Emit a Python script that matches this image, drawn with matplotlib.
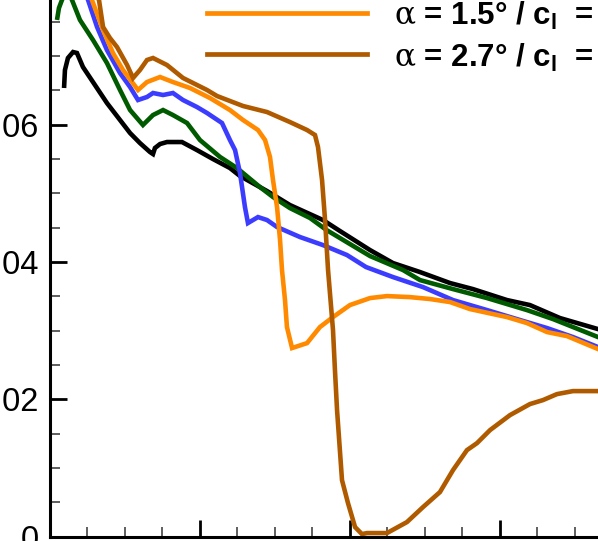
import matplotlib
matplotlib.use('Agg')
import matplotlib.pyplot as plt
from matplotlib.lines import Line2D
from matplotlib.ticker import MultipleLocator, FixedLocator, FixedFormatter, NullFormatter

plt.rcParams['font.family'] = ['Liberation Sans', 'DejaVu Sans']
plt.rcParams['mathtext.fontset'] = 'custom'
plt.rcParams['mathtext.it'] = 'DejaVu Serif'
plt.rcParams['mathtext.rm'] = 'Liberation Sans'
plt.rcParams['mathtext.bf'] = 'Liberation Sans:bold'

# ---------------- data ----------------
black_x = [0.0097, 0.0103, 0.0123, 0.0157, 0.0183, 0.0223, 0.0383, 0.0537, 0.0603, 0.0670, 0.0690,
           0.0703, 0.0737, 0.0783, 0.0883, 0.0983, 0.109, 0.1203, 0.127, 0.145, 0.1603, 0.1823,
           0.1937, 0.2137, 0.229, 0.247, 0.267, 0.2823, 0.305, 0.3203, 0.3403, 0.3657, 0.372]
black_y = [0.06536, 0.06798, 0.06973, 0.0706, 0.07046, 0.06842, 0.06317, 0.0588, 0.05734, 0.05603, 0.05574,
           0.05662, 0.0572, 0.05749, 0.05749, 0.05632, 0.05501, 0.0537, 0.05254, 0.05035, 0.04831, 0.04613,
           0.04452, 0.04175, 0.03986, 0.03855, 0.03695, 0.03607, 0.03447, 0.03374, 0.03185, 0.03024, 0.0299]

green_x = [0.005, 0.0063, 0.0083, 0.011, 0.0137, 0.015, 0.0203, 0.029, 0.0383, 0.047, 0.0537, 0.0623,
           0.069, 0.0757, 0.0823, 0.0917, 0.1003, 0.1137, 0.125, 0.1403, 0.149, 0.1603, 0.1737, 0.1847,
           0.2137, 0.2357, 0.247, 0.269, 0.2917, 0.3183, 0.3357, 0.3657, 0.372]
green_y = [0.07527, 0.07701, 0.07818, 0.07935, 0.07876, 0.07818, 0.07527, 0.07235, 0.069, 0.06507, 0.06215, 0.05997,
           0.06142, 0.06215, 0.06142, 0.06026, 0.05778, 0.05531, 0.0537, 0.05093, 0.04948, 0.04787, 0.04642, 0.04467,
           0.04088, 0.03884, 0.03738, 0.03607, 0.03476, 0.03301, 0.0317, 0.02908, 0.0287]

blue_x = [0.0203, 0.023, 0.0257, 0.0317, 0.0383, 0.047, 0.0537, 0.059, 0.065, 0.069, 0.0757, 0.0823,
          0.089, 0.0983, 0.105, 0.115, 0.1203, 0.1237, 0.127, 0.1303, 0.1323, 0.139, 0.145, 0.1517,
          0.167, 0.1823, 0.1983, 0.211, 0.229, 0.249, 0.269, 0.2917, 0.3137, 0.3317, 0.349, 0.3657, 0.372]
blue_y = [0.08109, 0.07964, 0.07818, 0.07425, 0.07089, 0.06754, 0.0655, 0.06361, 0.06405, 0.06463, 0.06434, 0.06463,
          0.06361, 0.06259, 0.06172, 0.06026, 0.05778, 0.05632, 0.05297, 0.04802, 0.04569, 0.04656, 0.04613, 0.04511,
          0.04365, 0.04248, 0.04103, 0.03928, 0.03782, 0.03636, 0.03447, 0.03301, 0.03156, 0.03039, 0.02908, 0.02762, 0.0273]

orange_x = [0.0237, 0.0283, 0.0357, 0.0423, 0.049, 0.059, 0.065, 0.0737, 0.0823, 0.0937, 0.107, 0.1203,
            0.129, 0.139, 0.1437, 0.147, 0.149, 0.1517, 0.1537, 0.155, 0.157, 0.1583, 0.1617, 0.1717,
            0.1803, 0.189, 0.2003, 0.2137, 0.225, 0.2403, 0.2537, 0.267, 0.2803, 0.305, 0.3183, 0.3317,
            0.345, 0.3657, 0.372]
orange_y = [0.0804, 0.07818, 0.07381, 0.07046, 0.06798, 0.06507, 0.06623, 0.06696, 0.06623, 0.06536, 0.0639, 0.06215,
            0.0607, 0.05924, 0.05778, 0.05531, 0.05195, 0.04802, 0.04321, 0.03884, 0.03447, 0.03054, 0.02748, 0.0282,
            0.03054, 0.03199, 0.03374, 0.03476, 0.03505, 0.0349, 0.03462, 0.03418, 0.03316, 0.03199, 0.03112, 0.02981,
            0.02922, 0.02733, 0.0270]

brown_x = [0.0257, 0.033, 0.0357, 0.0403, 0.045, 0.0517, 0.0557, 0.0603, 0.065, 0.069, 0.0783, 0.089,
           0.105, 0.1117, 0.129, 0.145, 0.1603, 0.1717, 0.177, 0.179, 0.1817, 0.1837, 0.1857, 0.189,
           0.1903, 0.1917, 0.195, 0.199, 0.2037, 0.2083, 0.2117, 0.225, 0.2383, 0.249, 0.2603, 0.269,
           0.2783, 0.285, 0.2937, 0.307, 0.3203, 0.329, 0.3383, 0.349, 0.3657, 0.372]
brown_y = [0.0804, 0.07818, 0.07425, 0.07264, 0.07133, 0.06871, 0.06682, 0.06798, 0.06944, 0.06973, 0.06871, 0.06682,
           0.06507, 0.06419, 0.06274, 0.06186, 0.0604, 0.05924, 0.05851, 0.05676, 0.05195, 0.04613, 0.03884, 0.0301,
           0.02427, 0.01844, 0.00824, 0.00489, 0.0014, 0.00038, 0.00053, 0.00053, 0.00213, 0.00431, 0.0065, 0.0097,
           0.01261, 0.01363, 0.01553, 0.01771, 0.01932, 0.0199, 0.02077, 0.02121, 0.02121, 0.0212]

series = [
    (black_x, black_y, '#000000'),
    (green_x, green_y, '#005a00'),
    (blue_x, blue_y, '#3c3cff'),
    (orange_x, orange_y, '#ff8a00'),
    (brown_x, brown_y, '#b05a00'),
]

legend_labels = [r'$\alpha$ = 1.5° / c$_\mathregular{l}$  =', r'$\alpha$ = 2.7° / c$_\mathregular{l}$  =']
legend_colors = ['#ff8a00', '#b05a00']

y_ticks = [0.0, 0.02, 0.04, 0.06]
y_ticklabels = ['0', '.02', '.04', '.06']
x_ticks = [0.0, 0.1, 0.2, 0.3, 0.4, 0.5]

# ---------------- figure ----------------
W, H = 598, 541
fig = plt.figure(figsize=(W / 100, H / 100), dpi=100)
ax = fig.add_axes([49.5 / W, 4.3 / H, 750 / W, 549.2 / H])
ax.set_xlim(0, 0.5)
ax.set_ylim(0, 0.08)

for xs, ys, c in series:
    ax.plot(xs, ys, color=c, lw=3.3, solid_joinstyle='miter', solid_capstyle='butt')

for s in ax.spines.values():
    s.set_linewidth(2.2)

ax.yaxis.set_major_locator(FixedLocator(y_ticks))
ax.yaxis.set_major_formatter(FixedFormatter(y_ticklabels))
ax.xaxis.set_major_locator(FixedLocator(x_ticks))
ax.xaxis.set_major_formatter(NullFormatter())
ax.yaxis.set_minor_locator(MultipleLocator(0.005))
ax.xaxis.set_minor_locator(MultipleLocator(0.025))
ax.tick_params(which='major', direction='in', length=12.2, width=2.0, labelsize=23.5, pad=8)
ax.tick_params(which='minor', direction='in', length=7.5, width=1.1, color='#333333')

# legend (manual, Tecplot style)
for i, (lab, col) in enumerate(zip(legend_labels, legend_colors)):
    ly = 12.7 + i * 41.5
    fig.add_artist(Line2D([207 / W, 367 / W], [1 - ly / H, 1 - ly / H], color=col, lw=3.4,
                          transform=fig.transFigure))
    fig.text(394 / W, 1 - (ly + 12.5) / H, lab, fontsize=22.5, fontweight='bold',
             ha='left', va='baseline')

fig.savefig('out.png', dpi=100)
